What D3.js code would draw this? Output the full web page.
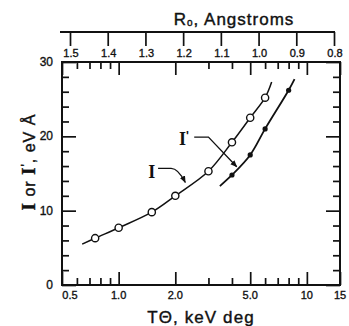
<!DOCTYPE html>
<html><head><meta charset="utf-8">
<script src="https://cdn.jsdelivr.net/npm/d3@7"></script>
<style>body{margin:0;background:#fff}svg{display:block}</style></head>
<body><svg id="c" width="349" height="326"></svg>
<script>
// ---- data ----
const xTicks = [0.5, 1.0, 2.0, 5.0, 10, 15];
const xTickLabels = ["0.5", "1.0", "2.0", "5.0", "10", "15"];
const xMinor = [0.6, 0.7, 0.8, 0.9, 3, 4, 6, 7, 8, 9];
const yTicks = [0, 10, 20, 30];
const yMinor = [2, 4, 6, 8, 12, 14, 16, 18, 22, 24, 26, 28];
const rTicks = [1.5, 1.4, 1.3, 1.2, 1.1, 1.0, 0.9, 0.8];
const rTickLabels = ["1.5", "1.4", "1.3", "1.2", "1.1", "1.0", "0.9", "0.8"];
// I (open circles)
const iX = [0.75, 1.0, 1.5, 2.0, 3.0, 4.0, 5.0, 6.0];
const iY = [6.3, 7.7, 9.8, 12.0, 15.3, 19.2, 22.5, 25.2];
const iCurveEnds = [[0.64, 5.5], [6.5, 27.3]];
// I' (filled dots)
const ipX = [4.0, 5.0, 6.0, 8.0];
const ipY = [14.8, 17.5, 21.0, 26.2];
const ipCurveEnds = [[3.45, 13.3], [8.6, 27.7]];
// annotation anchors (data units)
const labelI = {x: 1.5, y: 15.2, arrow: [[1.62, 15.7], [1.9, 15.7], [2.26, 13.8]]};
const labelIp = {x: 2.22, y: 19.6, arrow: [[2.52, 19.9], [3.0, 19.9], [4.24, 15.9]]};

// ---- layout ----
const svg = d3.select("#c");
const L = 62, R = 340, T = 62, B = 285;
const x = d3.scaleLog().domain([0.5, 15]).range([L, R]);
const y = d3.scaleLinear().domain([0, 30]).range([B, T]);
const r = d3.scaleLinear().domain([1.5, 0.8]).range([70, 334]);
const ink = "#111";
const sans = "'Liberation Sans', Arial, sans-serif";
const serif = "'Liberation Serif', 'Times New Roman', serif";

svg.append("defs").append("marker").attr("id", "ah")
  .attr("viewBox", "0 0 10 10").attr("refX", 9).attr("refY", 5)
  .attr("markerWidth", 7).attr("markerHeight", 7).attr("markerUnits", "userSpaceOnUse")
  .attr("orient", "auto")
  .append("path").attr("d", "M0,1 L10,5 L0,9 Z").attr("fill", ink);

// inward tick axes built with d3 axes
function styleAxis(sel) {
  sel.select(".domain").remove();
  sel.selectAll(".tick line").attr("stroke", ink).attr("stroke-width", 1.7);
  sel.selectAll(".tick text").remove();
}
const ax = svg.append("g");
ax.append("g").attr("transform", `translate(0,${B})`)
  .call(d3.axisBottom(x).tickValues(xTicks).tickSize(-13)).call(styleAxis);
ax.append("g").attr("transform", `translate(0,${B})`)
  .call(d3.axisBottom(x).tickValues(xMinor).tickSize(-7)).call(styleAxis);
ax.append("g").attr("transform", `translate(0,${T})`)
  .call(d3.axisTop(x).tickValues(xTicks).tickSize(-13)).call(styleAxis);
ax.append("g").attr("transform", `translate(0,${T})`)
  .call(d3.axisTop(x).tickValues(xMinor).tickSize(-7)).call(styleAxis);
ax.append("g").attr("transform", `translate(${L},0)`)
  .call(d3.axisLeft(y).tickValues(yTicks).tickSize(-14)).call(styleAxis);
ax.append("g").attr("transform", `translate(${L},0)`)
  .call(d3.axisLeft(y).tickValues(yMinor).tickSize(-7)).call(styleAxis);
ax.append("g").attr("transform", `translate(${R},0)`)
  .call(d3.axisRight(y).tickValues(yTicks).tickSize(-14)).call(styleAxis);
ax.append("g").attr("transform", `translate(${R},0)`)
  .call(d3.axisRight(y).tickValues(yMinor).tickSize(-7)).call(styleAxis);

// top R0 axis (ticks hanging down from its line)
const topY = 32;
ax.append("g").attr("transform", `translate(0,${topY})`)
  .call(d3.axisBottom(r).tickValues(rTicks).tickSize(14)).call(styleAxis);
ax.append("line").attr("x1", 60).attr("x2", 335).attr("y1", topY).attr("y2", topY)
  .attr("stroke", ink).attr("stroke-width", 2);

// frame
svg.append("rect").attr("x", L).attr("y", T).attr("width", R - L).attr("height", B - T)
  .attr("fill", "none").attr("stroke", ink).attr("stroke-width", 2);

// tick labels
const tl = svg.append("g").attr("font-family", sans).attr("fill", ink)
  .attr("stroke", ink).attr("stroke-width", 0.35);
xTicks.forEach((v, i) => {
  tl.append("text").attr("x", x(v) + (i === 0 ? 8 : 0)).attr("y", 299)
    .attr("text-anchor", "middle").attr("font-size", 11).text(xTickLabels[i]);
});
rTicks.forEach((v, i) => {
  tl.append("text").attr("x", r(v) + 1).attr("y", 57)
    .attr("text-anchor", "middle").attr("font-size", 11).text(rTickLabels[i]);
});
yTicks.forEach(v => {
  tl.append("text").attr("x", 53).attr("y", y(v) + 4)
    .attr("text-anchor", "end").attr("font-size", 12).text(v);
});

// axis titles
const t1 = svg.append("text").attr("x", 234).attr("y", 25).attr("text-anchor", "middle")
  .attr("font-family", sans).attr("font-size", 17).attr("fill", ink)
  .attr("stroke", ink).attr("stroke-width", 0.4).attr("letter-spacing", 1);
t1.append("tspan").text("R");
t1.append("tspan").attr("font-size", 10).attr("dy", 1).text("o");
t1.append("tspan").attr("dy", -1).text(", Angstroms");

svg.append("text").attr("x", 201).attr("y", 323).attr("text-anchor", "middle")
  .attr("font-family", sans).attr("font-size", 17).attr("fill", ink)
  .attr("stroke", ink).attr("stroke-width", 0.4).attr("letter-spacing", 1.1)
  .text("T\u0398, keV deg");

const yl = svg.append("text").attr("transform", "translate(35,162) rotate(-90)")
  .attr("text-anchor", "middle").attr("font-family", sans).attr("font-size", 16)
  .attr("fill", ink).attr("stroke", ink).attr("stroke-width", 0.4).attr("letter-spacing", 1);
yl.append("tspan").attr("font-family", serif).attr("font-weight", "bold").attr("font-size", 19).text("I");
yl.append("tspan").text(" or ");
yl.append("tspan").attr("font-family", serif).attr("font-weight", "bold").attr("font-size", 19).text("I");
yl.append("tspan").attr("font-size", 12).attr("dy", -5).text("'");
yl.append("tspan").attr("dy", 5).text(", eV \u00C5");

// curves
const line = d3.line().x(d => x(d[0])).y(d => y(d[1])).curve(d3.curveCatmullRom.alpha(0.5));
const iPts = [iCurveEnds[0], ...iX.map((v, i) => [v, iY[i]]), iCurveEnds[1]];
const ipPts = [ipCurveEnds[0], ...ipX.map((v, i) => [v, ipY[i]]), ipCurveEnds[1]];
svg.append("path").attr("d", line(iPts)).attr("fill", "none").attr("stroke", ink).attr("stroke-width", 1.5);
svg.append("path").attr("d", line(ipPts)).attr("fill", "none").attr("stroke", ink).attr("stroke-width", 1.8);

svg.append("g").selectAll("circle").data(iX).join("circle")
  .attr("cx", d => x(d)).attr("cy", (d, i) => y(iY[i])).attr("r", 3.6)
  .attr("fill", "#fff").attr("stroke", ink).attr("stroke-width", 1.4);
svg.append("g").selectAll("circle").data(ipX).join("circle")
  .attr("cx", d => x(d)).attr("cy", (d, i) => y(ipY[i])).attr("r", 2.6)
  .attr("fill", ink);

// annotations
function annot(a, prime) {
  const t = svg.append("text").attr("x", x(a.x)).attr("y", y(a.y) + 6).attr("text-anchor", "middle")
    .attr("font-family", serif).attr("font-weight", "bold").attr("font-size", 18).attr("fill", ink);
  t.append("tspan").text("I");
  if (prime) t.append("tspan").attr("font-family", sans).attr("font-weight", "bold").attr("font-size", 12).attr("dy", -5).text("'");
  const p = a.arrow.map(d => [x(d[0]), y(d[1])]);
  const path = d3.path();
  path.moveTo(p[0][0], p[0][1]);
  path.lineTo(p[1][0], p[1][1]);
  if (prime) path.lineTo(p[2][0], p[2][1]);
  else path.quadraticCurveTo(p[1][0] + 7, p[1][1], p[2][0], p[2][1]);
  svg.append("path").attr("d", path.toString()).attr("fill", "none").attr("stroke", ink)
    .attr("stroke-width", 1.3).attr("marker-end", "url(#ah)");
}
annot(labelI, false);
annot(labelIp, true);
</script></body></html>
